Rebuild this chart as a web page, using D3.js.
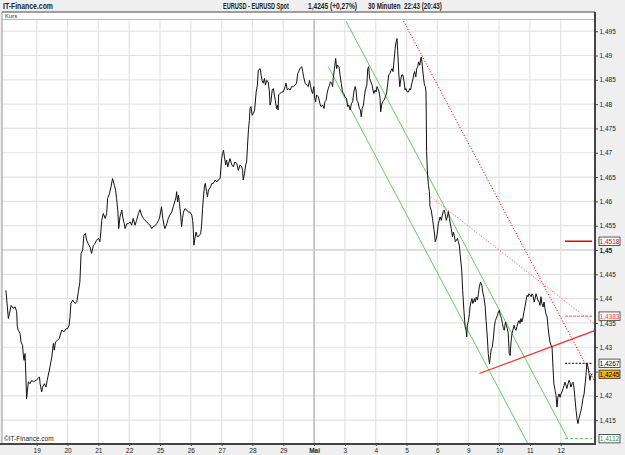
<!DOCTYPE html>
<html>
<head>
<meta charset="utf-8">
<script src="https://cdn.jsdelivr.net/npm/d3@7"></script>
<style>
  html, body { margin: 0; padding: 0; background: #efefef; }
  svg { display: block; font-family: 'Liberation Sans', Arial, sans-serif; }
</style>
</head>
<body>
<div id="chart"></div>
<script>
// Handelstage: Position 0 = 18. April, Beschriftung ab Position 1
const tage = ['19', '20', '21', '22', '25', '26', '27', '28', '29', 'Mai', '3', '4', '5', '6', '9', '10', '11', '12'];
const yTicks = [1.415, 1.42, 1.425, 1.43, 1.435, 1.44, 1.445, 1.45, 1.455, 1.46, 1.465, 1.47, 1.475, 1.48, 1.485, 1.49, 1.495];

// EUR/USD 30 Minuten, [Tagesposition, Kurs]
const kurs = [
  [0.00,1.4417],[0.08,1.4359],[0.17,1.4386],[0.24,1.4380],[0.30,1.4383],[0.35,1.4373],[0.37,1.4342],[0.40,1.4335],
  [0.46,1.4328],[0.49,1.4311],[0.54,1.4304],[0.57,1.4280],[0.59,1.4273],[0.62,1.4287],[0.65,1.4239],[0.67,1.4194],
  [0.73,1.4229],[0.78,1.4225],[0.84,1.4232],[0.89,1.4229],[0.98,1.4232],[1.05,1.4236],[1.09,1.4239],[1.11,1.4225],
  [1.16,1.4208],[1.19,1.4218],[1.25,1.4225],[1.30,1.4218],[1.34,1.4232],[1.41,1.4253],[1.49,1.4280],[1.54,1.4308],
  [1.57,1.4294],[1.61,1.4311],[1.67,1.4314],[1.73,1.4318],[1.81,1.4335],[1.89,1.4332],[1.95,1.4338],[2.00,1.4338],
  [2.05,1.4345],[2.08,1.4362],[2.11,1.4390],[2.17,1.4397],[2.24,1.4390],[2.30,1.4393],[2.35,1.4414],[2.40,1.4434],
  [2.44,1.4493],[2.49,1.4500],[2.53,1.4530],[2.58,1.4534],[2.62,1.4520],[2.67,1.4513],[2.73,1.4506],[2.78,1.4493],
  [2.84,1.4510],[2.89,1.4513],[2.94,1.4520],[3.00,1.4524],[3.05,1.4517],[3.08,1.4537],[3.11,1.4561],[3.16,1.4575],
  [3.22,1.4565],[3.27,1.4575],[3.30,1.4606],[3.36,1.4616],[3.41,1.4630],[3.46,1.4647],[3.52,1.4633],[3.56,1.4623],
  [3.59,1.4606],[3.63,1.4582],[3.66,1.4544],[3.70,1.4568],[3.76,1.4582],[3.79,1.4568],[3.84,1.4554],[3.87,1.4544],
  [3.92,1.4554],[3.97,1.4554],[4.03,1.4558],[4.08,1.4551],[4.13,1.4565],[4.19,1.4551],[4.24,1.4561],[4.30,1.4575],
  [4.35,1.4583],[4.40,1.4572],[4.46,1.4565],[4.51,1.4561],[4.57,1.4558],[4.62,1.4554],[4.68,1.4551],[4.73,1.4544],
  [4.78,1.4548],[4.84,1.4550],[4.89,1.4554],[4.95,1.4561],[4.98,1.4565],[5.02,1.4578],[5.05,1.4589],[5.09,1.4565],
  [5.13,1.4551],[5.16,1.4544],[5.22,1.4554],[5.27,1.4565],[5.32,1.4572],[5.38,1.4578],[5.43,1.4589],[5.49,1.4602],
  [5.52,1.4609],[5.54,1.4620],[5.57,1.4599],[5.60,1.4613],[5.63,1.4596],[5.67,1.4572],[5.70,1.4548],[5.73,1.4565],
  [5.76,1.4578],[5.81,1.4585],[5.87,1.4582],[5.92,1.4578],[5.97,1.4578],[6.03,1.4572],[6.06,1.4561],[6.08,1.4541],
  [6.10,1.4510],[6.14,1.4527],[6.17,1.4537],[6.21,1.4527],[6.28,1.4530],[6.32,1.4534],[6.35,1.4551],[6.38,1.4585],
  [6.41,1.4609],[6.44,1.4630],[6.47,1.4637],[6.51,1.4620],[6.54,1.4609],[6.57,1.4623],[6.60,1.4626],[6.64,1.4630],
  [6.68,1.4637],[6.73,1.4637],[6.79,1.4644],[6.84,1.4640],[6.89,1.4644],[6.95,1.4647],[7.00,1.4688],[7.03,1.4699],
  [7.06,1.4705],[7.09,1.4692],[7.13,1.4675],[7.16,1.4685],[7.20,1.4671],[7.24,1.4681],[7.27,1.4688],[7.33,1.4675],
  [7.38,1.4671],[7.43,1.4681],[7.49,1.4678],[7.54,1.4664],[7.60,1.4675],[7.65,1.4671],[7.68,1.4664],[7.70,1.4644],
  [7.74,1.4657],[7.78,1.4675],[7.81,1.4681],[7.85,1.4726],[7.87,1.4747],[7.90,1.4767],[7.92,1.4791],[7.95,1.4795],
  [7.99,1.4777],[8.03,1.4781],[8.07,1.4788],[8.12,1.4825],[8.16,1.4839],[8.19,1.4870],[8.25,1.4873],[8.28,1.4860],
  [8.31,1.4849],[8.35,1.4843],[8.39,1.4853],[8.42,1.4839],[8.46,1.4849],[8.51,1.4846],[8.55,1.4825],[8.57,1.4798],
  [8.60,1.4805],[8.64,1.4829],[8.68,1.4832],[8.71,1.4819],[8.74,1.4808],[8.78,1.4791],[8.81,1.4798],[8.83,1.4788],
  [8.85,1.4819],[8.89,1.4822],[8.95,1.4825],[9.00,1.4825],[9.06,1.4836],[9.09,1.4843],[9.13,1.4829],[9.16,1.4832],
  [9.22,1.4829],[9.27,1.4836],[9.33,1.4836],[9.38,1.4839],[9.43,1.4843],[9.47,1.4863],[9.50,1.4867],[9.54,1.4873],
  [9.60,1.4877],[9.63,1.4867],[9.66,1.4856],[9.71,1.4843],[9.76,1.4839],[9.81,1.4836],[9.85,1.4849],[9.88,1.4839],
  [9.91,1.4829],[9.95,1.4822],[9.99,1.4836],[10.02,1.4812],[10.05,1.4805],[10.08,1.4819],[10.14,1.4815],[10.19,1.4801],
  [10.22,1.4795],[10.28,1.4798],[10.32,1.4791],[10.35,1.4805],[10.39,1.4808],[10.42,1.4822],[10.46,1.4832],[10.50,1.4839],
  [10.53,1.4846],[10.57,1.4843],[10.60,1.4836],[10.62,1.4853],[10.66,1.4873],[10.70,1.4894],[10.73,1.4873],[10.76,1.4880],
  [10.81,1.4877],[10.84,1.4860],[10.88,1.4843],[10.92,1.4825],[10.96,1.4822],[11.00,1.4815],[11.05,1.4812],[11.09,1.4795],
  [11.12,1.4798],[11.17,1.4788],[11.21,1.4801],[11.25,1.4805],[11.29,1.4825],[11.33,1.4836],[11.36,1.4829],[11.39,1.4808],
  [11.42,1.4805],[11.47,1.4791],[11.50,1.4788],[11.53,1.4774],[11.56,1.4791],[11.60,1.4798],[11.63,1.4815],[11.66,1.4829],
  [11.71,1.4839],[11.74,1.4873],[11.77,1.4877],[11.80,1.4853],[11.84,1.4846],[11.88,1.4839],[11.91,1.4829],[11.94,1.4822],
  [11.98,1.4829],[12.01,1.4825],[12.04,1.4836],[12.07,1.4832],[12.11,1.4825],[12.14,1.4812],[12.16,1.4784],[12.19,1.4798],
  [12.22,1.4805],[12.27,1.4808],[12.31,1.4815],[12.35,1.4822],[12.39,1.4843],[12.42,1.4860],[12.46,1.4863],[12.50,1.4870],
  [12.53,1.4873],[12.56,1.4867],[12.59,1.4887],[12.63,1.4915],[12.66,1.4928],[12.69,1.4935],[12.71,1.4911],[12.75,1.4860],
  [12.78,1.4836],[12.81,1.4850],[12.84,1.4860],[12.88,1.4860],[12.92,1.4846],[12.95,1.4829],[12.98,1.4832],[13.02,1.4825],
  [13.06,1.4825],[13.10,1.4832],[13.13,1.4829],[13.17,1.4843],[13.20,1.4850],[13.23,1.4860],[13.26,1.4867],[13.30,1.4856],
  [13.33,1.4873],[13.36,1.4877],[13.39,1.4887],[13.43,1.4880],[13.46,1.4894],[13.48,1.4897],[13.51,1.4880],[13.54,1.4860],
  [13.58,1.4839],[13.61,1.4836],[13.63,1.4825],[13.64,1.4770],[13.65,1.4702],[13.68,1.4654],[13.71,1.4633],[13.74,1.4620],
  [13.76,1.4589],[13.80,1.4582],[13.84,1.4565],[13.87,1.4551],[13.90,1.4537],[13.93,1.4517],[13.97,1.4524],[14.00,1.4537],
  [14.03,1.4554],[14.06,1.4561],[14.09,1.4568],[14.13,1.4561],[14.16,1.4572],[14.19,1.4579],[14.22,1.4582],[14.26,1.4572],
  [14.29,1.4561],[14.32,1.4568],[14.36,1.4579],[14.39,1.4565],[14.42,1.4554],[14.45,1.4544],[14.49,1.4527],[14.52,1.4537],
  [14.55,1.4530],[14.58,1.4517],[14.62,1.4520],[14.65,1.4524],[14.68,1.4517],[14.71,1.4510],[14.79,1.4458],[14.82,1.4417],
  [14.86,1.4376],[14.90,1.4342],[14.93,1.4335],[14.95,1.4321],[14.97,1.4345],[15.01,1.4355],[15.04,1.4369],[15.06,1.4383],
  [15.09,1.4393],[15.12,1.4400],[15.15,1.4390],[15.17,1.4393],[15.20,1.4400],[15.23,1.4393],[15.26,1.4403],[15.30,1.4397],
  [15.33,1.4410],[15.36,1.4424],[15.40,1.4434],[15.44,1.4428],[15.47,1.4414],[15.51,1.4403],[15.55,1.4383],[15.58,1.4355],
  [15.62,1.4321],[15.65,1.4287],[15.69,1.4266],[15.72,1.4283],[15.75,1.4297],[15.78,1.4300],[15.82,1.4321],[15.85,1.4342],
  [15.88,1.4355],[15.91,1.4359],[15.95,1.4366],[15.98,1.4373],[16.01,1.4376],[16.04,1.4366],[16.08,1.4359],[16.11,1.4349],
  [16.14,1.4338],[16.17,1.4335],[16.21,1.4352],[16.24,1.4345],[16.27,1.4338],[16.30,1.4328],[16.33,1.4287],[16.36,1.4283],
  [16.39,1.4311],[16.42,1.4328],[16.45,1.4335],[16.49,1.4345],[16.52,1.4338],[16.55,1.4335],[16.58,1.4342],[16.62,1.4352],
  [16.65,1.4355],[16.68,1.4349],[16.71,1.4359],[16.74,1.4352],[16.78,1.4362],[16.81,1.4373],[16.84,1.4383],[16.88,1.4397],
  [16.91,1.4407],[16.94,1.4404],[16.97,1.4410],[17.01,1.4407],[17.04,1.4404],[17.07,1.4410],[17.10,1.4407],[17.14,1.4393],
  [17.17,1.4400],[17.20,1.4410],[17.23,1.4404],[17.26,1.4397],[17.30,1.4393],[17.33,1.4386],[17.36,1.4404],[17.39,1.4390],
  [17.43,1.4383],[17.46,1.4393],[17.49,1.4380],[17.52,1.4369],[17.56,1.4362],[17.59,1.4342],[17.62,1.4325],[17.65,1.4311],
  [17.69,1.4304],[17.72,1.4300],[17.75,1.4259],[17.78,1.4225],[17.82,1.4211],[17.85,1.4201],[17.88,1.4177],[17.91,1.4197],
  [17.95,1.4204],[17.98,1.4197],[18.01,1.4204],[18.04,1.4208],[18.08,1.4215],[18.11,1.4222],[18.14,1.4228],[18.17,1.4222],
  [18.20,1.4215],[18.24,1.4225],[18.27,1.4232],[18.30,1.4228],[18.33,1.4218],[18.37,1.4225],[18.40,1.4228],[18.43,1.4218],
  [18.46,1.4197],[18.50,1.4170],[18.53,1.4153],[18.56,1.4143],[18.59,1.4153],[18.63,1.4163],[18.66,1.4170],[18.69,1.4180],
  [18.72,1.4194],[18.76,1.4204],[18.79,1.4222],[18.82,1.4242],[18.85,1.4267],[18.89,1.4259],[18.92,1.4246],[18.95,1.4232],
  [18.98,1.4242],[19.03,1.4245]
];

// Trendlinien, je [Tagesposition, Kurs]
const kanalOben = [[11.03, 1.4971], [18.22, 1.4113]];
const kanalUnten = [[10.46, 1.4877], [16.94, 1.4101]];
const trendSteil = [[12.90, 1.4971], [19.15, 1.4224]];
const trendFlach = [[13.65, 1.4616], [19.15, 1.4345]];
const trendLinie = [[15.36, 1.4246], [19.18, 1.4336]];

// Markierungen rechts
const markWerte = [1.4518, 1.4364, 1.4267, 1.4245, 1.4112];
const markTexte = ['1,4518', '1,4383', '1,4267', '1,4245', '1,4112'];
const markSpanne = [18.14, 19.02];

const width = 625;
const height = 455;
const plot = { left: 2, right: 595, top: 12, strip: 19.5, bottom: 444 };

const svg = d3.select('#chart')
  .append('svg')
  .attr('width', width)
  .attr('height', height);

const x = d3.scaleLinear().domain([0, 19]).range([5.9, 591.5]);
const y = d3.scaleLinear().domain([1.4101, 1.4971]).range([plot.bottom, 21]);

svg.append('defs')
  .append('clipPath')
  .attr('id', 'clip')
  .append('rect')
  .attr('x', plot.left)
  .attr('y', plot.strip)
  .attr('width', plot.right - plot.left)
  .attr('height', plot.bottom - plot.strip);

// Kopfzeile: schmale Schrift über horizontale Skalierung
const kopf = [
  { t: 'IT-Finance.com', x: 3, w: 50 },
  { t: 'EURUSD - EURUSD Spot', x: 223, w: 66 },
  { t: '1,4245 (+0,27%)', x: 308, w: 49 },
  { t: '30 Minuten  22:43 (20:43)', x: 368, w: 74 }
];
svg.selectAll('.kopf')
  .data(kopf)
  .join('text')
  .attr('class', 'kopf')
  .attr('font-size', 8.5).attr('font-weight', 'bold')
  .attr('fill', '#222')
  .attr('xml:space', 'preserve')
  .style('white-space', 'pre')
  .text((d) => d.t)
  .attr('transform', function (d) {
    const len = this.getComputedTextLength() || d.w;
    return `translate(${d.x}, 9) scale(${d.w / len}, 1)`;
  });

// Plotfläche
svg.append('rect')
  .attr('x', plot.left).attr('y', plot.top)
  .attr('width', plot.right - plot.left).attr('height', plot.bottom - plot.top)
  .attr('fill', '#fff');

svg.append('text')
  .attr('x', 5).attr('y', 18)
  .attr('font-size', 6).attr('fill', '#333')
  .text('Kurs');

svg.append('line')
  .attr('x1', plot.left).attr('x2', plot.right)
  .attr('y1', plot.strip).attr('y2', plot.strip)
  .attr('stroke', '#bbb').attr('stroke-width', 1.2);

const g = svg.append('g').attr('clip-path', 'url(#clip)');

// Gitter
g.selectAll('.hgrid')
  .data(yTicks)
  .join('line')
  .attr('class', 'hgrid')
  .attr('x1', plot.left).attr('x2', plot.right)
  .attr('y1', (d) => y(d)).attr('y2', (d) => y(d))
  .attr('stroke', (d) => (d === 1.45 ? '#d2d2d2' : '#e3e3e3'))
  .attr('stroke-width', (d) => (d === 1.45 ? 1.6 : 1.2));

g.selectAll('.vgrid')
  .data(tage)
  .join('line')
  .attr('class', 'vgrid')
  .attr('x1', (d, i) => x(i + 1)).attr('x2', (d, i) => x(i + 1))
  .attr('y1', plot.strip).attr('y2', plot.bottom)
  .attr('stroke', (d) => (d === 'Mai' ? '#c4c4c4' : '#e3e3e3'))
  .attr('stroke-width', (d) => (d === 'Mai' ? 1.8 : 1.2));

// Trendlinien
const linie = d3.line().x((d) => x(d[0])).y((d) => y(d[1]));

[kanalOben, kanalUnten].forEach((l) => {
  g.append('path')
    .datum(l)
    .attr('d', linie)
    .attr('fill', 'none')
    .attr('stroke', '#5fcf5f')
    .attr('stroke-width', 1);
});

g.append('path')
  .datum(trendSteil)
  .attr('d', linie)
  .attr('fill', 'none')
  .attr('stroke', '#f00')
  .attr('stroke-width', 1)
  .attr('stroke-dasharray', '1.2,1.8');

g.append('path')
  .datum(trendFlach)
  .attr('d', linie)
  .attr('fill', 'none')
  .attr('stroke', '#ff5a5a')
  .attr('stroke-width', 1)
  .attr('stroke-dasharray', '1.2,1.8');

g.append('path')
  .datum(trendLinie)
  .attr('d', linie)
  .attr('fill', 'none')
  .attr('stroke', '#ff2a2a')
  .attr('stroke-width', 1.2);

// horizontale Marken
const markStil = [
  { farbe: '#e00', dash: null, breite: 1.5 },
  { farbe: '#ff8a8a', dash: '3,1', breite: 1.5 },
  { farbe: '#000', dash: '2,1.5', breite: 1 },
  null,
  { farbe: '#55c055', dash: '3,2', breite: 1 }
];
markWerte.forEach((v, i) => {
  const s = markStil[i];
  if (!s) return;
  g.append('line')
    .attr('x1', x(markSpanne[0])).attr('x2', x(markSpanne[1]))
    .attr('y1', y(v)).attr('y2', y(v))
    .attr('stroke', s.farbe)
    .attr('stroke-width', s.breite)
    .attr('stroke-dasharray', s.dash);
});

// Kurslinie
g.append('path')
  .datum(kurs)
  .attr('d', linie)
  .attr('fill', 'none')
  .attr('stroke', '#111')
  .attr('stroke-width', 1)
  .attr('stroke-linejoin', 'round');

svg.append('text')
  .attr('x', 4).attr('y', 441)
  .attr('font-size', 6.5).attr('fill', '#222')
  .text('©IT-Finance.com');

// Rahmen
svg.append('line')
  .attr('x1', plot.left).attr('x2', plot.right)
  .attr('y1', plot.top).attr('y2', plot.top)
  .attr('stroke', '#444').attr('stroke-width', 1);
svg.append('line')
  .attr('x1', plot.left).attr('x2', plot.left)
  .attr('y1', plot.top).attr('y2', plot.bottom)
  .attr('stroke', '#999').attr('stroke-width', 1);

// Kästchen-Positionen vorab, damit verdeckte Achsentexte entfallen
let letzteY = -Infinity;
const boxY = markWerte.map((v) => {
  let cy = y(v);
  if (cy - letzteY < 11) cy = letzteY + 11;
  letzteY = cy;
  return cy;
});

// rechte Achse
const yAxis = svg.append('g')
  .attr('transform', `translate(${plot.right}, 0)`)
  .call(
    d3.axisRight(y)
      .tickValues(yTicks)
      .tickSize(3)
      .tickPadding(1.5)
      .tickFormat((d) => d3.format('.3~f')(d).replace('.', ','))
  );
yAxis.select('.domain')
  .attr('d', `M0,${plot.top}V${plot.bottom + 1}`)
  .attr('stroke', '#444').attr('stroke-width', 2);
yAxis.selectAll('.tick line').attr('stroke', '#444');
yAxis.selectAll('.tick text')
  .attr('font-size', 6.5)
  .attr('font-family', "'Liberation Sans', Arial, sans-serif")
  .attr('fill', '#222')
  .attr('font-weight', (d) => (d === 1.45 ? 'bold' : 'normal'))
  .attr('display', (d) => (boxY.some((b) => Math.abs(b - y(d)) < 5) ? 'none' : null));

// untere Achse
const xAxis = svg.append('g')
  .attr('transform', `translate(0, ${plot.bottom})`)
  .call(
    d3.axisBottom(x)
      .tickValues(d3.range(1, tage.length + 1))
      .tickSize(2)
      .tickPadding(2.5)
      .tickFormat((d) => tage[d - 1])
  );
xAxis.select('.domain')
  .attr('d', `M0,0H${plot.right + 1}`)
  .attr('stroke', '#444').attr('stroke-width', 2);
xAxis.selectAll('.tick line').attr('stroke', '#444');
xAxis.selectAll('.tick text')
  .attr('font-size', 6.5)
  .attr('font-family', "'Liberation Sans', Arial, sans-serif")
  .attr('fill', '#222')
  .attr('font-weight', (d) => (tage[d - 1] === 'Mai' ? 'bold' : 'normal'));

// Kästchen rechts
const boxFarben = ['#e00', '#f33', '#000', '#000', '#2a9a2a'];
markWerte.forEach((v, i) => {
  const box = svg.append('g').attr('transform', `translate(599, ${boxY[i]})`);
  box.append('rect')
    .attr('x', 0).attr('y', -4.2)
    .attr('width', 21).attr('height', 8.4)
    .attr('fill', i === 3 ? '#f2b705' : '#fff')
    .attr('stroke', '#333').attr('stroke-width', 0.8);
  box.append('text')
    .attr('x', 10.5).attr('y', 0)
    .attr('text-anchor', 'middle')
    .attr('dominant-baseline', 'central')
    .attr('font-size', 6.5)
    .attr('fill', boxFarben[i])
    .text(markTexte[i]);
});
</script>
</body>
</html>
